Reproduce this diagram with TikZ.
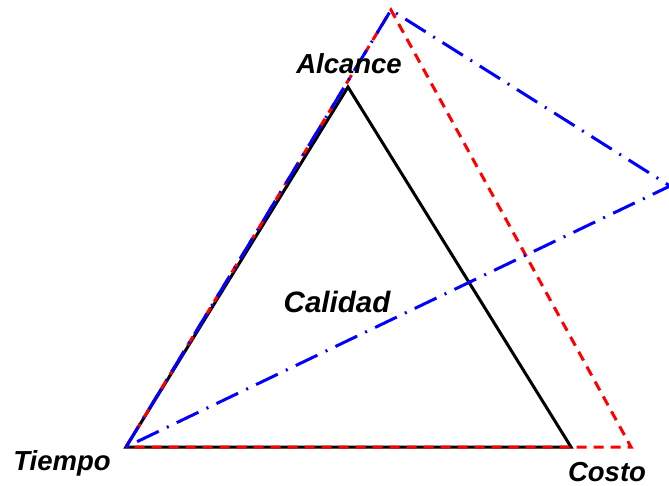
\documentclass[tikz,border=0pt]{standalone}
\usepackage{fontspec}
\setmainfont{Liberation Sans}
\begin{document}
\begin{tikzpicture}[x=1pt,y=-1pt,
  lbl/.style={font=\fontsize{27.5}{30}\selectfont\bfseries\itshape, inner sep=0pt},
  biglbl/.style={font=\fontsize{29.5}{32}\selectfont\bfseries\itshape, inner sep=0pt},
  base/.style={line width=3pt, line join=miter},
  solidtri/.style={base, black},
  dashtri/.style={base, red, dash pattern=on 10pt off 7pt},
  dotdashtri/.style={base, blue, dash pattern=on 24pt off 9pt on 2pt off 9pt}]
\useasboundingbox (0,0) rectangle (669,486);
\clip (0,0) rectangle (669,486);
\coordinate (T) at (126,447);
\coordinate (A) at (348,87);
\coordinate (C) at (571,447);
\coordinate (A2) at (391,10);
\coordinate (C2) at (631,447);
\coordinate (C3) at (670,186);
\draw[solidtri] (T) -- (A) -- (C) -- cycle;
\draw[dashtri] (T) -- (A2) -- (C2) -- cycle;
\draw[dotdashtri] (T) -- (A2) -- (C3) -- cycle;
\node[lbl] (lA) at (349,64) {Alcance};
\node[biglbl] (lQ) at (337,302) {Calidad};
\node[lbl] (lT) at (62,463) {Tiempo};
\node[lbl] (lC) at (607,472) {Costo};
\end{tikzpicture}
\end{document}
